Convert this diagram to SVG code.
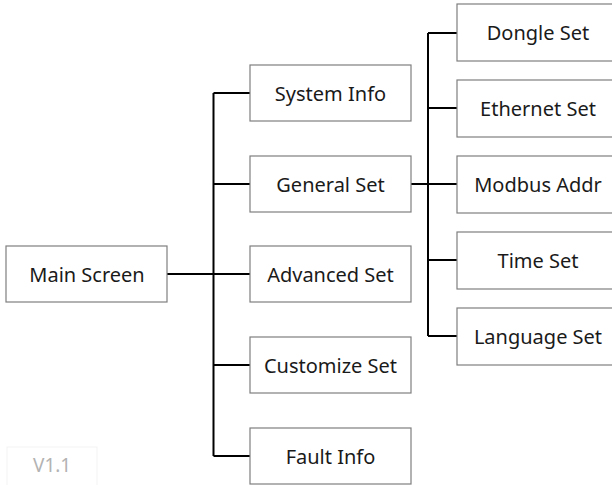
<svg xmlns="http://www.w3.org/2000/svg" width="612" height="485" viewBox="0 0 612 485">
<style>
.box{fill:#fff;stroke:#7f7f7f;stroke-width:1.2}
.lbl{font-family:"Noto Sans","Open Sans",sans-serif;font-size:20px;fill:#1a1a1a;text-anchor:middle;dominant-baseline:central}
.con{stroke:#000;stroke-width:2;fill:none}
</style>
<rect width="612" height="485" fill="#fff"/>
<g id="connectors">
<path class="con" d="M167 274H213.5M213.5 93V456M213.5 93H250M213.5 184H250M213.5 274H250M213.5 365H250M213.5 456H250"/>
<path class="con" d="M411 184H457M428 33V336M428 33H457M428 108H457M428 184H457M428 260H457M428 336H457"/>
</g>
<g id="main"><rect class="box" x="6" y="246" width="161" height="56"/><text class="lbl" x="87" y="274">Main Screen</text></g>
<g id="system-info"><rect class="box" x="250" y="65" width="161" height="56"/><text class="lbl" x="330.5" y="93">System Info</text></g>
<g id="general-set"><rect class="box" x="250" y="156" width="161" height="56"/><text class="lbl" x="330.5" y="184">General Set</text></g>
<g id="advanced-set"><rect class="box" x="250" y="246" width="161" height="56"/><text class="lbl" x="330.5" y="274">Advanced Set</text></g>
<g id="customize-set"><rect class="box" x="250" y="337" width="161" height="56"/><text class="lbl" x="330.5" y="365">Customize Set</text></g>
<g id="fault-info"><rect class="box" x="250" y="428" width="161" height="56"/><text class="lbl" x="330.5" y="456">Fault Info</text></g>
<g id="dongle-set"><rect class="box" x="457" y="4" width="162" height="57"/><text class="lbl" x="538" y="32.5">Dongle Set</text></g>
<g id="ethernet-set"><rect class="box" x="457" y="80" width="162" height="57"/><text class="lbl" x="538" y="108.5">Ethernet Set</text></g>
<g id="modbus-addr"><rect class="box" x="457" y="156" width="162" height="57"/><text class="lbl" x="538" y="184">Modbus Addr</text></g>
<g id="time-set"><rect class="box" x="457" y="232" width="162" height="57"/><text class="lbl" x="538" y="260">Time Set</text></g>
<g id="language-set"><rect class="box" x="457" y="308" width="162" height="57"/><text class="lbl" x="538" y="336">Language Set</text></g>
<g id="version"><rect x="7" y="447" width="90" height="45" fill="none" stroke="#f3f3f3" stroke-width="1"/><text x="33" y="465" font-family="Noto Sans, sans-serif" font-size="19" fill="#b3b3b3" dominant-baseline="central">V1.1</text></g>
</svg>
